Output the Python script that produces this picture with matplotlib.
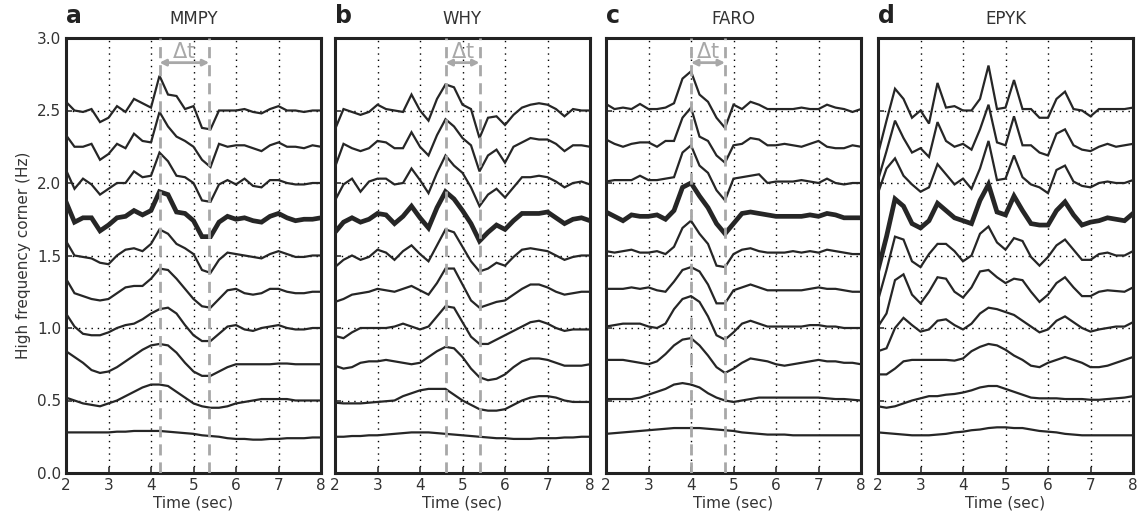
import matplotlib
matplotlib.use("Agg")
import matplotlib.pyplot as plt

# Tiempo de muestreo (sec)
time = [2.0, 2.2, 2.4, 2.6, 2.8, 3.0, 3.2, 3.4, 3.6, 3.8, 4.0, 4.2, 4.4, 4.6, 4.8,
        5.0, 5.2, 5.4, 5.6, 5.8, 6.0, 6.2, 6.4, 6.6, 6.8, 7.0, 7.2, 7.4, 7.6, 7.8, 8.0]

# Esquina de alta frecuencia (Hz), trazas de arriba hacia abajo
mmpy = [
    [2.56, 2.50, 2.49, 2.51, 2.42, 2.45, 2.53, 2.49, 2.58, 2.55, 2.52, 2.74, 2.61, 2.60, 2.51, 2.53, 2.38, 2.37, 2.50, 2.50, 2.50, 2.51, 2.49, 2.48, 2.51, 2.53, 2.50, 2.50, 2.49, 2.50, 2.50],
    [2.33, 2.25, 2.25, 2.27, 2.16, 2.20, 2.27, 2.24, 2.34, 2.29, 2.28, 2.49, 2.39, 2.32, 2.29, 2.25, 2.16, 2.11, 2.27, 2.25, 2.26, 2.26, 2.24, 2.22, 2.26, 2.28, 2.25, 2.25, 2.24, 2.26, 2.25],
    [2.09, 1.96, 2.03, 1.99, 1.92, 1.96, 2.00, 2.00, 2.08, 2.04, 2.05, 2.21, 2.15, 2.05, 2.04, 2.00, 1.88, 1.87, 1.99, 2.02, 1.99, 2.03, 1.98, 1.97, 2.02, 2.02, 2.00, 1.99, 1.99, 2.00, 2.00],
    [1.87, 1.73, 1.76, 1.76, 1.67, 1.71, 1.76, 1.77, 1.81, 1.78, 1.81, 1.94, 1.92, 1.80, 1.79, 1.74, 1.63, 1.63, 1.73, 1.77, 1.75, 1.76, 1.74, 1.73, 1.77, 1.79, 1.76, 1.74, 1.75, 1.75, 1.76],
    [1.60, 1.50, 1.49, 1.48, 1.45, 1.44, 1.50, 1.54, 1.55, 1.53, 1.58, 1.68, 1.65, 1.58, 1.55, 1.51, 1.40, 1.38, 1.47, 1.52, 1.51, 1.50, 1.49, 1.48, 1.51, 1.53, 1.51, 1.49, 1.49, 1.50, 1.50],
    [1.34, 1.24, 1.22, 1.20, 1.19, 1.20, 1.24, 1.28, 1.29, 1.29, 1.34, 1.41, 1.40, 1.34, 1.27, 1.20, 1.15, 1.14, 1.20, 1.26, 1.27, 1.24, 1.23, 1.24, 1.27, 1.27, 1.25, 1.24, 1.24, 1.25, 1.25],
    [1.10, 1.01, 0.96, 0.95, 0.95, 0.97, 1.00, 1.02, 1.03, 1.06, 1.10, 1.13, 1.14, 1.10, 1.02, 0.95, 0.91, 0.91, 0.96, 1.01, 1.02, 0.99, 0.98, 1.00, 1.01, 1.02, 1.00, 0.99, 0.99, 1.00, 1.00],
    [0.84, 0.80, 0.76, 0.71, 0.69, 0.70, 0.73, 0.77, 0.81, 0.85, 0.88, 0.89, 0.88, 0.83, 0.76, 0.70, 0.67, 0.67, 0.70, 0.73, 0.75, 0.75, 0.75, 0.75, 0.75, 0.755, 0.755, 0.75, 0.75, 0.75, 0.75],
    [0.52, 0.50, 0.48, 0.47, 0.46, 0.48, 0.50, 0.53, 0.56, 0.59, 0.61, 0.61, 0.60, 0.56, 0.52, 0.48, 0.46, 0.45, 0.45, 0.46, 0.48, 0.49, 0.50, 0.51, 0.51, 0.51, 0.51, 0.50, 0.50, 0.50, 0.50],
    [0.28, 0.28, 0.28, 0.28, 0.28, 0.28, 0.285, 0.285, 0.29, 0.29, 0.29, 0.29, 0.285, 0.28, 0.275, 0.27, 0.26, 0.255, 0.25, 0.24, 0.235, 0.235, 0.23, 0.23, 0.235, 0.235, 0.24, 0.24, 0.24, 0.245, 0.245],
]

why = [
    [2.37, 2.51, 2.49, 2.47, 2.49, 2.54, 2.51, 2.50, 2.49, 2.61, 2.50, 2.43, 2.58, 2.68, 2.66, 2.54, 2.51, 2.31, 2.45, 2.46, 2.40, 2.47, 2.52, 2.54, 2.55, 2.54, 2.51, 2.46, 2.51, 2.50, 2.50],
    [2.11, 2.27, 2.24, 2.22, 2.24, 2.29, 2.28, 2.24, 2.24, 2.35, 2.25, 2.19, 2.33, 2.44, 2.39, 2.31, 2.26, 2.08, 2.19, 2.23, 2.14, 2.25, 2.28, 2.31, 2.30, 2.30, 2.27, 2.22, 2.26, 2.26, 2.25],
    [1.88, 1.99, 2.03, 1.94, 2.01, 2.03, 2.03, 1.99, 2.00, 2.10, 2.02, 1.93, 2.07, 2.19, 2.12, 2.07, 1.97, 1.84, 1.92, 1.96, 1.90, 1.97, 2.04, 2.04, 2.05, 2.04, 2.01, 1.97, 2.00, 2.01, 1.99],
    [1.66, 1.73, 1.76, 1.73, 1.75, 1.79, 1.78, 1.72, 1.77, 1.84, 1.76, 1.69, 1.83, 1.94, 1.89, 1.81, 1.72, 1.60, 1.66, 1.71, 1.68, 1.74, 1.79, 1.79, 1.79, 1.80, 1.76, 1.72, 1.75, 1.76, 1.74],
    [1.42, 1.47, 1.50, 1.47, 1.49, 1.54, 1.52, 1.47, 1.53, 1.57, 1.51, 1.46, 1.57, 1.68, 1.66, 1.56, 1.46, 1.39, 1.41, 1.45, 1.43, 1.49, 1.54, 1.55, 1.54, 1.53, 1.50, 1.47, 1.49, 1.50, 1.50],
    [1.18, 1.20, 1.23, 1.24, 1.25, 1.27, 1.26, 1.25, 1.27, 1.29, 1.26, 1.23, 1.31, 1.41, 1.41, 1.30, 1.19, 1.14, 1.16, 1.18, 1.19, 1.23, 1.27, 1.30, 1.30, 1.28, 1.25, 1.23, 1.24, 1.25, 1.25],
    [0.945, 0.93, 0.97, 1.00, 1.00, 1.00, 1.00, 1.01, 1.03, 1.01, 0.99, 1.01, 1.08, 1.15, 1.14, 1.04, 0.94, 0.89, 0.89, 0.92, 0.95, 0.98, 1.01, 1.04, 1.05, 1.03, 1.00, 0.98, 0.99, 0.99, 0.99],
    [0.74, 0.72, 0.73, 0.76, 0.77, 0.77, 0.78, 0.77, 0.76, 0.75, 0.76, 0.80, 0.84, 0.87, 0.86, 0.80, 0.72, 0.66, 0.64, 0.65, 0.68, 0.73, 0.77, 0.79, 0.79, 0.78, 0.76, 0.74, 0.74, 0.74, 0.75],
    [0.485, 0.48, 0.48, 0.48, 0.485, 0.49, 0.495, 0.50, 0.53, 0.55, 0.57, 0.58, 0.58, 0.58, 0.54, 0.50, 0.47, 0.44, 0.43, 0.43, 0.44, 0.47, 0.50, 0.52, 0.53, 0.53, 0.52, 0.50, 0.49, 0.49, 0.49],
    [0.25, 0.25, 0.255, 0.255, 0.26, 0.26, 0.265, 0.27, 0.275, 0.28, 0.28, 0.28, 0.275, 0.27, 0.265, 0.26, 0.255, 0.25, 0.245, 0.24, 0.24, 0.235, 0.235, 0.235, 0.24, 0.24, 0.24, 0.245, 0.245, 0.25, 0.25],
]

faro = [
    [2.545, 2.51, 2.52, 2.51, 2.545, 2.51, 2.51, 2.52, 2.55, 2.72, 2.77, 2.61, 2.56, 2.45, 2.38, 2.54, 2.51, 2.56, 2.54, 2.51, 2.51, 2.51, 2.51, 2.52, 2.51, 2.51, 2.54, 2.52, 2.51, 2.49, 2.51],
    [2.30, 2.27, 2.25, 2.27, 2.28, 2.28, 2.25, 2.29, 2.29, 2.45, 2.52, 2.32, 2.29, 2.19, 2.14, 2.26, 2.27, 2.31, 2.30, 2.26, 2.26, 2.27, 2.26, 2.25, 2.27, 2.29, 2.25, 2.24, 2.24, 2.26, 2.25],
    [2.01, 2.02, 2.02, 2.02, 2.05, 2.02, 2.02, 2.03, 2.04, 2.21, 2.26, 2.12, 2.07, 1.95, 1.88, 2.03, 2.04, 2.05, 2.06, 2.00, 2.01, 2.01, 2.01, 2.02, 2.01, 2.00, 2.03, 2.00, 1.99, 2.00, 2.00],
    [1.80, 1.77, 1.74, 1.78, 1.77, 1.77, 1.78, 1.75, 1.81, 1.97, 2.00, 1.91, 1.83, 1.72, 1.65, 1.72, 1.79, 1.80, 1.79, 1.78, 1.77, 1.77, 1.77, 1.77, 1.78, 1.77, 1.79, 1.78, 1.76, 1.76, 1.76],
    [1.53, 1.52, 1.53, 1.54, 1.52, 1.52, 1.53, 1.51, 1.56, 1.69, 1.74, 1.65, 1.58, 1.43, 1.42, 1.51, 1.54, 1.55, 1.53, 1.52, 1.52, 1.52, 1.53, 1.52, 1.53, 1.52, 1.54, 1.53, 1.52, 1.51, 1.51],
    [1.27, 1.27, 1.27, 1.28, 1.27, 1.28, 1.26, 1.25, 1.32, 1.40, 1.42, 1.39, 1.30, 1.17, 1.17, 1.26, 1.28, 1.30, 1.28, 1.26, 1.26, 1.26, 1.26, 1.26, 1.27, 1.28, 1.27, 1.27, 1.26, 1.25, 1.25],
    [1.01, 1.02, 1.03, 1.03, 1.03, 1.01, 1.00, 1.03, 1.13, 1.20, 1.22, 1.18, 1.08, 0.95, 0.92, 0.97, 1.03, 1.05, 1.03, 1.01, 1.01, 1.01, 1.01, 1.01, 1.02, 1.02, 1.01, 1.01, 1.00, 1.00, 1.00],
    [0.78, 0.78, 0.78, 0.77, 0.76, 0.75, 0.77, 0.82, 0.88, 0.92, 0.93, 0.88, 0.81, 0.73, 0.69, 0.72, 0.76, 0.79, 0.78, 0.77, 0.75, 0.74, 0.75, 0.76, 0.77, 0.78, 0.77, 0.77, 0.76, 0.76, 0.75],
    [0.51, 0.51, 0.51, 0.51, 0.52, 0.54, 0.56, 0.58, 0.61, 0.62, 0.61, 0.59, 0.55, 0.52, 0.50, 0.49, 0.50, 0.51, 0.52, 0.52, 0.52, 0.52, 0.52, 0.52, 0.52, 0.52, 0.515, 0.51, 0.51, 0.505, 0.50],
    [0.27, 0.275, 0.28, 0.285, 0.29, 0.295, 0.30, 0.305, 0.31, 0.31, 0.31, 0.31, 0.305, 0.30, 0.295, 0.29, 0.28, 0.275, 0.27, 0.265, 0.265, 0.265, 0.26, 0.26, 0.26, 0.26, 0.26, 0.26, 0.26, 0.26, 0.26],
]

epyk = [
    [2.20, 2.43, 2.65, 2.58, 2.45, 2.50, 2.41, 2.69, 2.52, 2.53, 2.50, 2.50, 2.58, 2.81, 2.51, 2.52, 2.71, 2.51, 2.51, 2.45, 2.45, 2.58, 2.63, 2.51, 2.50, 2.46, 2.51, 2.51, 2.51, 2.51, 2.52],
    [2.02, 2.22, 2.43, 2.31, 2.21, 2.24, 2.18, 2.42, 2.29, 2.25, 2.27, 2.23, 2.37, 2.54, 2.28, 2.26, 2.46, 2.26, 2.26, 2.21, 2.19, 2.34, 2.37, 2.26, 2.23, 2.22, 2.25, 2.27, 2.25, 2.26, 2.27],
    [1.93, 2.10, 2.17, 2.05, 1.99, 1.94, 1.97, 2.13, 2.06, 1.99, 2.03, 1.96, 2.10, 2.29, 2.02, 2.03, 2.19, 2.04, 1.99, 1.97, 1.93, 2.09, 2.12, 2.01, 1.98, 1.97, 2.00, 2.01, 2.00, 2.00, 2.02],
    [1.40, 1.63, 1.89, 1.84, 1.72, 1.69, 1.74, 1.86, 1.81, 1.76, 1.74, 1.72, 1.88, 1.99, 1.80, 1.78, 1.91, 1.81, 1.72, 1.71, 1.71, 1.81, 1.87, 1.78, 1.71, 1.73, 1.74, 1.76, 1.75, 1.74, 1.79],
    [1.19, 1.40, 1.63, 1.61, 1.46, 1.42, 1.51, 1.58, 1.58, 1.53, 1.46, 1.50, 1.65, 1.70, 1.59, 1.54, 1.62, 1.60, 1.49, 1.43, 1.49, 1.57, 1.61, 1.54, 1.47, 1.47, 1.51, 1.52, 1.50, 1.50, 1.53],
    [1.01, 1.10, 1.33, 1.37, 1.23, 1.17, 1.25, 1.35, 1.34, 1.25, 1.21, 1.28, 1.39, 1.40, 1.35, 1.31, 1.34, 1.33, 1.25, 1.18, 1.23, 1.31, 1.35, 1.28, 1.22, 1.22, 1.25, 1.26, 1.255, 1.25, 1.28],
    [0.84, 0.86, 1.00, 1.07, 1.02, 0.975, 0.99, 1.05, 1.06, 1.02, 0.99, 1.03, 1.10, 1.14, 1.13, 1.11, 1.09, 1.05, 1.01, 0.97, 0.99, 1.05, 1.08, 1.04, 1.00, 0.975, 0.99, 1.00, 1.01, 1.01, 1.04],
    [0.68, 0.68, 0.72, 0.77, 0.78, 0.78, 0.78, 0.78, 0.78, 0.775, 0.79, 0.84, 0.87, 0.89, 0.88, 0.85, 0.81, 0.78, 0.74, 0.73, 0.76, 0.78, 0.80, 0.78, 0.76, 0.73, 0.73, 0.74, 0.76, 0.78, 0.80],
    [0.46, 0.45, 0.46, 0.48, 0.50, 0.515, 0.53, 0.53, 0.54, 0.545, 0.555, 0.57, 0.59, 0.60, 0.60, 0.58, 0.56, 0.54, 0.52, 0.515, 0.515, 0.515, 0.51, 0.51, 0.51, 0.505, 0.505, 0.51, 0.515, 0.52, 0.53],
    [0.28, 0.275, 0.27, 0.265, 0.26, 0.26, 0.26, 0.265, 0.27, 0.28, 0.285, 0.295, 0.30, 0.31, 0.315, 0.315, 0.31, 0.31, 0.30, 0.29, 0.285, 0.28, 0.27, 0.265, 0.26, 0.26, 0.26, 0.26, 0.26, 0.26, 0.26],
]

stations = ["MMPY", "WHY", "FARO", "EPYK"]
letters = ["a", "b", "c", "d"]
traces = [mmpy, why, faro, epyk]
# Tiempos de las lineas de Delta t (None = sin marca)
dt_marks = [(4.2, 5.37), (4.6, 5.4), (4.0, 4.8), None]
thick_index = 3

# Colores
line_color = "#262626"
gray = "#a8a8a8"
text_color = "#333333"

fig = plt.figure(figsize=(11.39, 5.19), dpi=100)
lefts = [66, 335, 606, 878]
for k in range(4):
    ax = fig.add_axes([lefts[k] / 1139, 46 / 519, 255 / 1139, 435 / 519])

    # Grilla punteada
    for gx in [3, 4, 5, 6, 7]:
        ax.axvline(gx, color="k", ls=(0, (1, 3.5)), lw=1.0, zorder=1)
    for gy in [0.5, 1.0, 1.5, 2.0, 2.5]:
        ax.axhline(gy, color="k", ls=(0, (1, 3.5)), lw=1.0, zorder=1)

    # Trazas
    for i, tr in enumerate(traces[k]):
        lw = 3.4 if i == thick_index else 1.6
        ax.plot(time, tr, color=line_color, lw=lw, zorder=3, solid_joinstyle="miter")

    # Lineas de Delta t
    if dt_marks[k] is not None:
        t0, t1 = dt_marks[k]
        for tx in (t0, t1):
            ax.axvline(tx, color=gray, ls=(0, (4, 2.5)), lw=2.0, zorder=4)
        ax.annotate("", xy=(t0, 2.83), xytext=(t1, 2.83),
                    arrowprops=dict(arrowstyle="<|-|>", color=gray, lw=2,
                                    shrinkA=0, shrinkB=0, mutation_scale=9),
                    zorder=5)
        ax.text((t0 + t1) / 2, 2.905, r"$\Delta$t", color=gray, fontsize=15,
                ha="center", va="center", zorder=5)

    ax.set_xlim(2, 8)
    ax.set_ylim(0, 3)
    ax.set_xticks([2, 3, 4, 5, 6, 7, 8])
    ax.set_yticks([0.0, 0.5, 1.0, 1.5, 2.0, 2.5, 3.0])
    ax.tick_params(direction="in", length=4, width=1.2, colors=text_color,
                   labelsize=11, top=False, right=False)
    if k == 0:
        ax.set_yticklabels(["0.0", "0.5", "1.0", "1.5", "2.0", "2.5", "3.0"])
        ax.set_ylabel("High frequency corner (Hz)", fontsize=11, color=text_color)
    else:
        ax.set_yticklabels([])
    ax.set_xlabel("Time (sec)", fontsize=11, color=text_color, labelpad=2)
    for s in ax.spines.values():
        s.set_linewidth(2.2)
        s.set_color("#222222")

    ax.set_title(stations[k], fontsize=12, color=text_color, pad=10)
    ax.text(0.0, 1.022, letters[k], transform=ax.transAxes, fontsize=17,
            fontweight="bold", color="#222222", ha="left", va="bottom")

fig.savefig("out.png", dpi=100)
